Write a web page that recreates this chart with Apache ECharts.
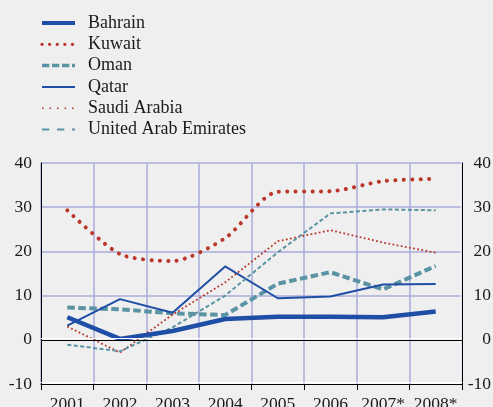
<!DOCTYPE html>
<html>
<head>
<meta charset="utf-8">
<script src="https://cdn.jsdelivr.net/npm/echarts@6/dist/echarts.min.js"></script>
<style>
  html, body { margin: 0; padding: 0; background: #efefef; }
  #chart { width: 493px; height: 407px; }
</style>
</head>
<body>
<div id="chart"></div>
<script>
const categories = ['2001', '2002', '2003', '2004', '2005', '2006', '2007*', '2008*'];
const bahrain = [5.1, 0.2, 2.0, 4.7, 5.2, 5.2, 5.1, 6.4];
const kuwait = [29.3, 19.4, 17.8, 23.0, 33.5, 33.6, 35.9, 36.4];
const oman = [7.3, 6.9, 6.0, 5.6, 12.7, 15.3, 11.4, 16.7];
const qatar = [3.2, 9.2, 6.1, 16.6, 9.4, 9.8, 12.5, 12.6];
const saudiArabia = [3.0, -2.9, 5.7, 13.0, 22.3, 24.8, 22.0, 19.7];
const uae = [-1.1, -2.6, 2.8, 10.0, 19.8, 28.6, 29.5, 29.3];
const yTicks = [-10, 0, 10, 20, 30, 40];

const blue = '#1e4ea5';
const red = '#bb372b';
const teal = '#5a93a3';
const grid = '#a8acdb';
const font = 'Liberation Serif';

const chart = echarts.init(document.getElementById('chart'));

const valueAxis = (side) => ({
  type: 'value',
  position: side,
  min: yTicks[0],
  max: yTicks[yTicks.length - 1],
  interval: 10,
  axisLine: {
    show: true,
    lineStyle: {
      color: '#000', width: 1,
      shadowColor: '#fff', shadowBlur: 0, shadowOffsetX: side === 'right' ? -1.5 : 0
    }
  },
  axisTick: { show: false },
  axisLabel: {
    fontFamily: font, fontSize: 17.5, color: '#1a1a1a',
    align: 'right',
    margin: side === 'right' ? 29 : 9
  },
  splitLine: {
    show: side === 'left',
    lineStyle: { color: ['#fff', 'transparent', grid, grid, grid, grid], width: 1.5 }
  }
});

const line = (name, data, color, width, type, cap, extra) => Object.assign({
  name: name,
  type: 'line',
  data: data,
  symbol: 'none',
  lineStyle: { color: color, width: width, type: type, cap: cap || 'butt' },
  itemStyle: { color: color }
}, extra || {});

// legend keys drawn a little differently from the plotted lines
const legendItem = (name, color, width, type, cap) => ({
  name: name,
  lineStyle: { color: color, width: width, type: type, cap: cap || 'butt', opacity: 1 }
});

const option = {
  animation: false,
  backgroundColor: '#efefef',
  grid: { left: 41, right: 31, top: 163, bottom: 23, outerBoundsMode: 'none', containLabel: false },
  legend: {
    orient: 'vertical',
    left: 40,
    top: 14,
    padding: 0,
    itemWidth: 33,
    itemHeight: 12,
    itemGap: 3.3,
    itemStyle: { color: 'transparent', borderWidth: 0, opacity: 0 },
    textStyle: {
      fontFamily: font, fontSize: 18, color: '#1a1a1a',
      lineHeight: 18, padding: [0, 0, 0, 8]
    },
    data: [
      legendItem('Bahrain', blue, 4, 'solid'),
      legendItem('Kuwait', red, 3.3, [0.1, 7.5], 'round'),
      legendItem('Oman', teal, 3.5, [7.3, 2.7]),
      legendItem('Qatar', blue, 2, 'solid'),
      legendItem('Saudi Arabia', red, 1.6, [1.6, 5.9]),
      legendItem('United Arab Emirates', teal, 1.8, [7.3, 7.7])
    ]
  },
  xAxis: {
    type: 'category',
    data: categories,
    boundaryGap: true,
    axisLine: {
      show: true,
      onZero: false,
      lineStyle: { color: '#000', width: 1, shadowColor: '#fff', shadowBlur: 0, shadowOffsetY: -2 }
    },
    axisTick: { show: true, interval: 0, length: 6, lineStyle: { color: '#000' } },
    axisLabel: { interval: 0, fontFamily: font, fontSize: 17.5, color: '#1a1a1a', margin: 11 },
    splitLine: { show: true, interval: 0, lineStyle: { color: grid, width: 1.5 } }
  },
  yAxis: [valueAxis('left'), valueAxis('right')],
  series: [
    line('Oman', oman, teal, 4, [7.5, 3.5]),
    line('Qatar', qatar, blue, 2, 'solid'),
    line('Saudi Arabia', saudiArabia, red, 1.8, [1.8, 2.4]),
    line('United Arab Emirates', uae, teal, 2, [4, 2.5]),
    line('Kuwait', kuwait, red, 4, [0.1, 8.3], 'round', { smooth: 0.25 }),
    line('Bahrain', bahrain, blue, 4.5, 'solid', 'butt', {
      markLine: {
        silent: true,
        symbol: 'none',
        label: { show: false },
        lineStyle: {
          color: '#000', width: 1.2, type: 'solid',
          shadowColor: '#fff', shadowBlur: 0, shadowOffsetY: -2
        },
        data: [{ yAxis: 0 }]
      }
    })
  ]
};

option && chart.setOption(option);
</script>
</body>
</html>
